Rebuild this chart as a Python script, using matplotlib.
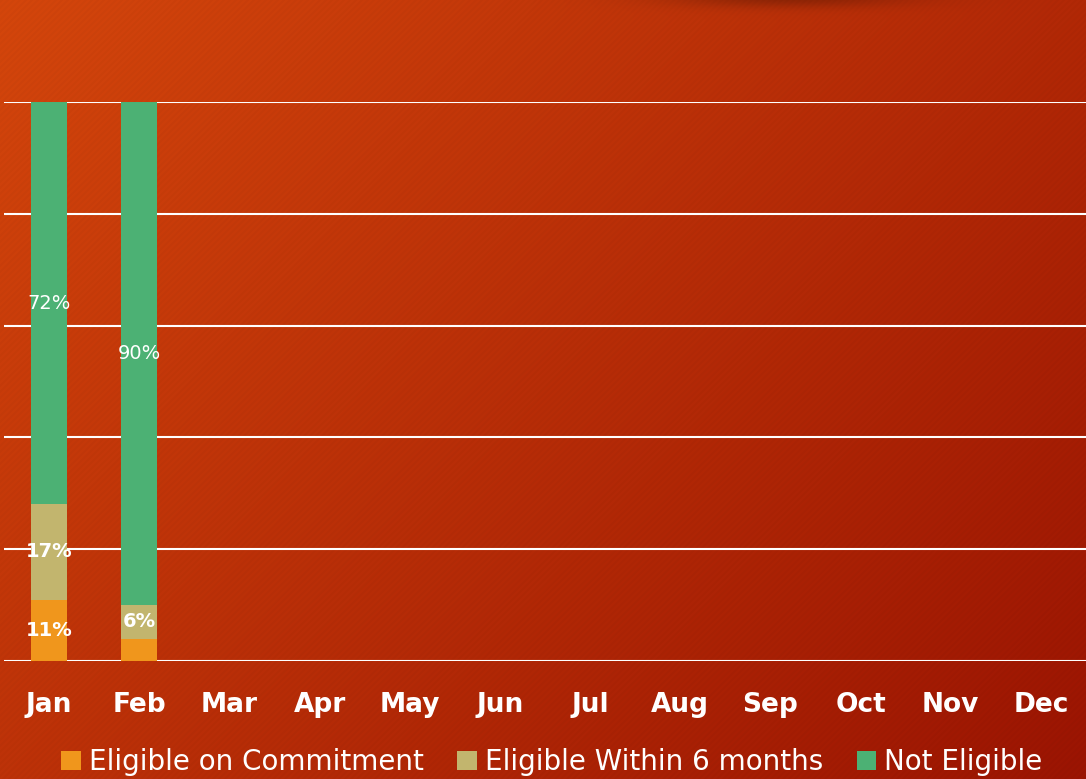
import numpy as np
import matplotlib
matplotlib.use("Agg")
import matplotlib.pyplot as plt
from matplotlib.patches import Patch

months = ["Jan", "Feb", "Mar", "Apr", "May", "Jun", "Jul", "Aug", "Sep", "Oct", "Nov", "Dec"]
series_names = ["Eligible on Commitment", "Eligible Within 6 months", "Not Eligible"]
eligible_commit = [11, 4]
eligible_6m = [17, 6]
not_eligible = [72, 90]
labels_commit = ["11%", ""]
labels_6m = ["17%", "6%"]
labels_not = ["72%", "90%"]
colors = ["#F0961C", "#C2B56E", "#4CB174"]

W, H = 1086, 779
fig = plt.figure(figsize=(W / 100, H / 100), dpi=100)

# background gradient with subtle diagonal stripes
bg = fig.add_axes([0, 0, 1, 1], zorder=0)
yy, xx = np.mgrid[0:H, 0:W]
t = (xx / W * 0.6 + yy / H * 0.4)
c0 = np.array([212, 70, 12]) / 255.0
c1 = np.array([155, 20, 2]) / 255.0
img = c0[None, None, :] * (1 - t[..., None]) + c1[None, None, :] * t[..., None]
stripes = 0.02 * (((xx + yy) % 6) < 3)
img = img * (1 - stripes[..., None])
# dark shadow blob at top
blob = np.exp(-(((xx - 790) / 120.0) ** 2 + ((yy + 3) / 10.0) ** 2))
img = img * (1 - 0.25 * blob[..., None])
bg.imshow(np.clip(img, 0, 1), aspect="auto", extent=[0, W, H, 0], interpolation="nearest")
bg.axis("off")

ax = fig.add_axes([4 / W, 1 - 661 / H, (W - 4) / W, (661 - 102) / H], zorder=1)
ax.patch.set_alpha(0)
x = np.arange(len(months))
n = len(eligible_commit)
bw = 0.4
b1 = ax.bar(x[:n], eligible_commit, bw, color=colors[0], zorder=3)
b2 = ax.bar(x[:n], eligible_6m, bw, bottom=eligible_commit, color=colors[1], zorder=3)
bottom3 = [a + b for a, b in zip(eligible_commit, eligible_6m)]
b3 = ax.bar(x[:n], not_eligible, bw, bottom=bottom3, color=colors[2], zorder=3)

ax.bar_label(b1, labels=labels_commit, label_type="center", color="white", fontsize=14, fontweight="bold")
ax.bar_label(b2, labels=labels_6m, label_type="center", color="white", fontsize=14, fontweight="bold")
ax.bar_label(b3, labels=labels_not, label_type="center", color="white", fontsize=14)

ax.set_xlim(-0.5, len(months) - 0.5)
ax.set_ylim(0, 100)
ax.set_yticks([0, 20, 40, 60, 80, 100])
ax.yaxis.grid(True, color="white", linewidth=1.5, zorder=1)
ax.set_axisbelow(True)
ax.tick_params(axis="y", left=False, labelleft=False)
ax.set_xticks(x)
ax.set_xticklabels(months, color="white", fontsize=19, fontweight="bold")
ax.tick_params(axis="x", length=0, pad=22)
for s in ax.spines.values():
    s.set_visible(False)
ax.axhline(0, color="white", linewidth=2, zorder=2)

handles = [Patch(facecolor=c, edgecolor="none") for c in colors]
fig.legend(handles, series_names, loc="center", bbox_to_anchor=(552 / W, 1 - 762 / H),
           ncol=3, frameon=False, fontsize=20, labelcolor="white",
           handlelength=0.7, handleheight=0.7, handletextpad=0.3, columnspacing=1.2)

fig.savefig("out.png", dpi=100)
